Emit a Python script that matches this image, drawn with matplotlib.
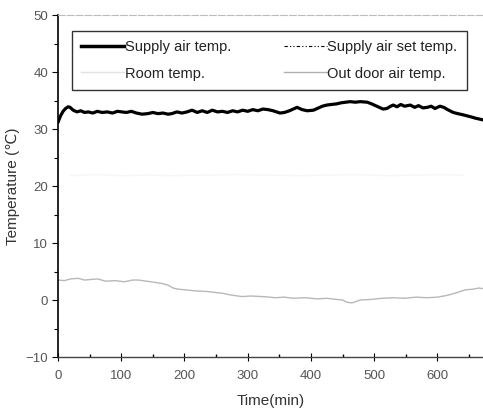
import matplotlib
matplotlib.use("Agg")
import matplotlib.pyplot as plt
from matplotlib.lines import Line2D

plt.rcParams['font.family'] = ['Liberation Sans', 'DejaVu Sans']

# Supply air temperature (min, degC)
supply_t = [0, 4, 8, 12, 16, 19, 24, 30, 36, 42, 48, 55, 62, 70, 78, 86, 94, 101, 108, 116,
            124, 133, 142, 150, 158, 166, 174, 180, 188, 196, 204, 212, 220, 228, 236, 244, 252,
            260, 268, 276, 284, 292, 300, 308, 316, 324, 332, 340, 351, 358, 366, 372, 378,
            386, 394, 404, 412, 418, 425, 432, 440, 448, 455, 462, 470, 478, 489, 496, 504,
            510, 514, 520, 526, 530, 536, 542, 548, 557, 564, 570, 577, 584, 590, 596, 604,
            610, 616, 625, 632, 640, 647, 654, 660, 668, 672]
supply_v = [31.2, 32.3, 33.1, 33.6, 33.9, 33.8, 33.3, 33.0, 33.2, 32.9, 33.0, 32.8, 33.1, 32.9,
            33.0, 32.8, 33.1, 33.0, 32.9, 33.1, 32.8, 32.6, 32.7, 32.9, 32.7, 32.8, 32.6, 32.7,
            33.0, 32.8, 33.0, 33.3, 32.9, 33.2, 32.9, 33.3, 33.0, 33.1, 32.9, 33.2, 33.0, 33.3,
            33.1, 33.4, 33.2, 33.5, 33.4, 33.2, 32.8, 32.9, 33.2, 33.5, 33.8, 33.4, 33.2, 33.3,
            33.7, 34.0, 34.2, 34.3, 34.4, 34.6, 34.7, 34.8, 34.7, 34.8, 34.7, 34.4, 34.0,
            33.7, 33.5, 33.6, 34.0, 34.2, 33.9, 34.3, 34.0, 34.2, 33.8, 34.1, 33.7, 33.8,
            34.0, 33.6, 34.0, 33.8, 33.4, 32.9, 32.7, 32.5, 32.3, 32.1, 31.9, 31.7, 31.6]

# Outdoor air temperature (min, degC)
outdoor_t = [0, 10, 20, 32, 42, 52, 63, 75, 90, 105, 118, 127, 140, 153, 164, 174, 182, 190,
             200, 217, 235, 250, 259, 272, 291, 305, 323, 335, 343, 358, 372, 390, 410, 425,
             440, 450, 457, 465, 478, 495, 512, 530, 548, 566, 584, 600, 615, 628, 636, 645,
             657, 665, 672]
outdoor_v = [3.5, 3.4, 3.7, 3.8, 3.5, 3.6, 3.7, 3.3, 3.4, 3.2, 3.5, 3.5, 3.3, 3.1, 2.9, 2.6,
             2.1, 1.9, 1.8, 1.6, 1.5, 1.3, 1.2, 0.9, 0.6, 0.7, 0.6, 0.5, 0.4, 0.5, 0.3, 0.4,
             0.2, 0.3, 0.1, 0.0, -0.4, -0.5, 0.0, 0.1, 0.3, 0.4, 0.3, 0.5, 0.4, 0.5, 0.8,
             1.2, 1.5, 1.8, 1.9, 2.1, 2.0]

# Room temperature (barely visible in the scan)
room_t = [20, 60, 100, 140, 180, 230, 280, 330, 380, 420, 470, 520, 560, 600, 640]
room_v = [21.8, 22.0, 21.8, 21.9, 21.8, 21.9, 22.0, 21.9, 21.8, 21.9, 22.0, 21.8, 21.9, 22.0, 21.9]

labels = ["Supply air temp.", "Room temp.", "Supply air set temp.", "Out door air temp."]
x_ticks = [0, 100, 200, 300, 400, 500, 600]
y_ticks = [-10, 0, 10, 20, 30, 40, 50]

fig = plt.figure(figsize=(4.83, 4.11), dpi=100)
ax = fig.add_axes([58/483, 1-357/411, 1-58/483, (357-15)/411])

ax.plot(room_t, room_v, color='#f6f6f6', lw=1.0)
ax.plot(outdoor_t, outdoor_v, color='#b8b8b8', lw=1.0)
ax.plot(supply_t, supply_v, color='black', lw=2.3)

ax.set_xlim(0, 672)
ax.set_ylim(-10, 50)
ax.set_xticks(x_ticks)
ax.set_yticks(y_ticks)
ax.set_xticks(range(50, 672, 100), minor=True)
ax.set_yticks(range(-5, 50, 10), minor=True)
ax.tick_params(axis='x', which='major', direction='inout', length=6, width=0.8,
               labelsize=9.5, labelcolor='#555', pad=6)
ax.tick_params(axis='x', which='minor', direction='in', length=2, width=1.0)
ax.tick_params(axis='y', which='major', direction='out', length=4, width=0.8,
               labelsize=9.5, labelcolor='#555', pad=3)
ax.tick_params(axis='y', which='minor', direction='out', length=3, width=0.8)

ax.spines['right'].set_visible(False)
ax.spines['top'].set_color('#bbbbbb')
ax.spines['top'].set_linestyle((0, (6, 2)))
ax.spines['left'].set_linewidth(1.2)
ax.spines['bottom'].set_linewidth(1.0)
ax.spines['bottom'].set_color('#444')

ax.set_xlabel("Time(min)", fontsize=11, color='#333', labelpad=9)
ax.set_ylabel("Temperature (℃)", fontsize=11, color='#333', labelpad=4)

handles = [
    Line2D([], [], color='black', lw=2.5),
    Line2D([], [], color='#e2e2e2', lw=1.0),
    Line2D([], [], color='black', lw=0.8, linestyle=(0, (3, 2, 1, 2, 1, 2))),
    Line2D([], [], color='#b0b0b0', lw=1.0),
]
leg = ax.legend(handles, labels, ncol=2, loc='upper left',
                bbox_to_anchor=(14/425, 1 - 16/342),
                borderaxespad=0, fontsize=10.5, handlelength=2.95, handletextpad=0.05,
                columnspacing=3.6, labelspacing=0.85, borderpad=0.63,
                frameon=True, fancybox=False, edgecolor='black')
leg.get_frame().set_linewidth(1.0)
for t in leg.get_texts():
    t.set_color('#222')

fig.savefig("out.png", dpi=100)
